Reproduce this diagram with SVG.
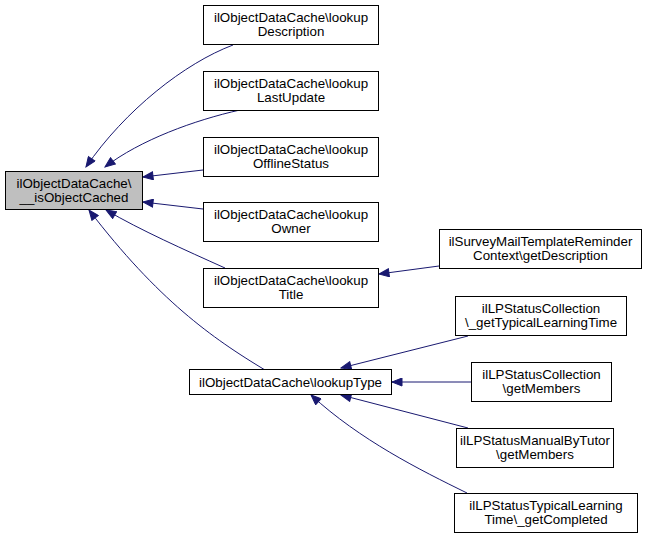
<svg xmlns="http://www.w3.org/2000/svg" width="648" height="539" viewBox="0 0 648 539">
<style>
.n rect{fill:#ffffff;stroke:#000000;stroke-width:1}
.n.root rect{fill:#bfbfbf}
.n text{font-family:"Liberation Sans",Arial,Helvetica,sans-serif;font-size:13.33px;text-anchor:middle;fill:#000000}
.e path{fill:none;stroke:#191970;stroke-width:1;marker-end:url(#ah)}
</style>
<defs>
<marker id="ah" markerUnits="userSpaceOnUse" markerWidth="12" markerHeight="9" refX="11" refY="4.5" orient="auto">
<path d="M1,0.5 L11,4.5 L1,8.5 Z" fill="#191970" stroke="#191970" stroke-width="1"/>
</marker>
</defs>
<rect width="648" height="539" fill="#ffffff"/>
<g id="edges" class="e">
<path d="M233,45 C185,63 125,110 86,167"/>
<path d="M240,110 C195,120 140,140 105,167"/>
<path d="M203,170 L143,177"/>
<path d="M203,209 L143,202"/>
<path d="M225,268 C185,250 140,230 106,210"/>
<path d="M265,370 C212,338 158,300 89,210"/>
<path d="M439,266 L379,274"/>
<path d="M468,336 L341,368"/>
<path d="M471,382 L392,382"/>
<path d="M468,428 L341,395"/>
<path d="M467,493 C420,470 360,440 311,395"/>
</g>
<g id="isObjectCached" class="n root">
<rect x="5.5" y="171.5" width="137" height="38"/>
<text x="74" y="188">ilObjectDataCache\</text>
<text x="74" y="202">__isObjectCached</text>
</g>
<g id="lookupDescription" class="n">
<rect x="203.5" y="5.5" width="175" height="39"/>
<text x="291" y="22">ilObjectDataCache\lookup</text>
<text x="291" y="36">Description</text>
</g>
<g id="lookupLastUpdate" class="n">
<rect x="203.5" y="71.5" width="175" height="39"/>
<text x="291" y="88">ilObjectDataCache\lookup</text>
<text x="291" y="102">LastUpdate</text>
</g>
<g id="lookupOfflineStatus" class="n">
<rect x="203.5" y="137.5" width="175" height="39"/>
<text x="291" y="154">ilObjectDataCache\lookup</text>
<text x="291" y="168">OfflineStatus</text>
</g>
<g id="lookupOwner" class="n">
<rect x="203.5" y="202.5" width="175" height="39"/>
<text x="291" y="219">ilObjectDataCache\lookup</text>
<text x="291" y="233">Owner</text>
</g>
<g id="lookupTitle" class="n">
<rect x="203.5" y="268.5" width="175" height="39"/>
<text x="291" y="285">ilObjectDataCache\lookup</text>
<text x="291" y="299">Title</text>
</g>
<g id="lookupType" class="n">
<rect x="189.5" y="369.5" width="202" height="25"/>
<text x="290.5" y="386.5">ilObjectDataCache\lookupType</text>
</g>
<g id="surveyMailGetDescription" class="n">
<rect x="439.5" y="229.5" width="202" height="39"/>
<text x="540.5" y="246">ilSurveyMailTemplateReminder</text>
<text x="540.5" y="260">Context\getDescription</text>
</g>
<g id="lpCollectionGetTypical" class="n">
<rect x="455.5" y="296.5" width="171" height="39"/>
<text x="541" y="313">ilLPStatusCollection</text>
<text x="541" y="327">\_getTypicalLearningTime</text>
</g>
<g id="lpCollectionGetMembers" class="n">
<rect x="471.5" y="362.5" width="140" height="39"/>
<text x="541.5" y="379">ilLPStatusCollection</text>
<text x="541.5" y="393">\getMembers</text>
</g>
<g id="lpManualGetMembers" class="n">
<rect x="456.5" y="428.5" width="157" height="39"/>
<text x="535" y="445">ilLPStatusManualByTutor</text>
<text x="535" y="459">\getMembers</text>
</g>
<g id="lpTypicalGetCompleted" class="n">
<rect x="454.5" y="493.5" width="183" height="39"/>
<text x="546" y="510">ilLPStatusTypicalLearning</text>
<text x="546" y="524">Time\_getCompleted</text>
</g>
</svg>
